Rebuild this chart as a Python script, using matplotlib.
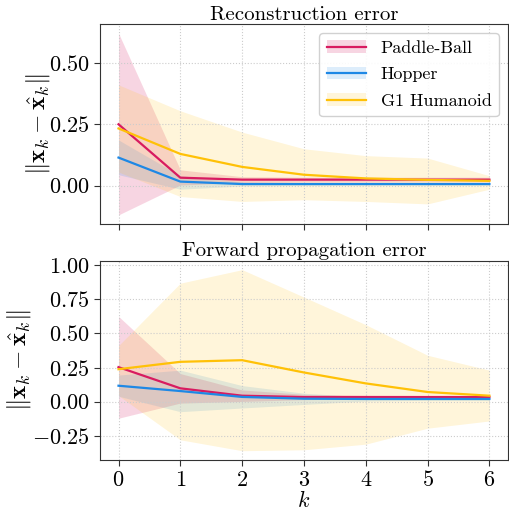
import numpy as np
import matplotlib
matplotlib.use("Agg")
import matplotlib.pyplot as plt
from matplotlib.patches import Patch
from matplotlib.lines import Line2D

plt.rcParams['font.family'] = 'serif'
plt.rcParams['font.serif'] = ['cmr10']
plt.rcParams['mathtext.fontset'] = 'cm'
plt.rcParams['axes.formatter.use_mathtext'] = True
plt.rcParams['axes.unicode_minus'] = True

k = [0, 1, 2, 3, 4, 5, 6]
series = ["Paddle-Ball", "Hopper", "G1 Humanoid"]
colors = ["#D81B60", "#1E88E5", "#FFC107"]

# Reconstruction error
rec_pb_mean = [0.250, 0.032, 0.024, 0.024, 0.024, 0.024, 0.024]
rec_pb_lo   = [-0.120, 0.002, 0.012, 0.014, 0.014, 0.014, 0.014]
rec_pb_hi   = [0.622, 0.064, 0.036, 0.034, 0.034, 0.034, 0.034]
rec_hp_mean = [0.114, 0.016, 0.006, 0.006, 0.006, 0.006, 0.006]
rec_hp_lo   = [0.044, -0.015, -0.002, 0.000, 0.001, 0.001, 0.001]
rec_hp_hi   = [0.186, 0.040, 0.014, 0.012, 0.011, 0.011, 0.011]
rec_g1_mean = [0.233, 0.129, 0.076, 0.044, 0.029, 0.023, 0.019]
rec_g1_lo   = [0.055, -0.045, -0.065, -0.058, -0.065, -0.075, -0.015]
rec_g1_hi   = [0.411, 0.305, 0.218, 0.150, 0.122, 0.112, 0.040]

# Forward propagation error
fwd_pb_mean = [0.253, 0.098, 0.044, 0.034, 0.034, 0.034, 0.034]
fwd_pb_lo   = [-0.121, -0.010, 0.002, 0.015, 0.020, 0.022, 0.022]
fwd_pb_hi   = [0.625, 0.206, 0.086, 0.054, 0.048, 0.046, 0.046]
fwd_hp_mean = [0.117, 0.078, 0.035, 0.022, 0.020, 0.020, 0.020]
fwd_hp_lo   = [0.040, -0.073, -0.046, -0.020, 0.005, 0.010, 0.010]
fwd_hp_hi   = [0.195, 0.231, 0.118, 0.062, 0.036, 0.030, 0.030]
fwd_g1_mean = [0.238, 0.292, 0.304, 0.214, 0.134, 0.071, 0.044]
fwd_g1_lo   = [0.045, -0.279, -0.359, -0.352, -0.311, -0.194, -0.141]
fwd_g1_hi   = [0.410, 0.868, 0.967, 0.766, 0.564, 0.340, 0.231]

panels = [
    ("Reconstruction error",
     [(rec_pb_mean, rec_pb_lo, rec_pb_hi), (rec_hp_mean, rec_hp_lo, rec_hp_hi), (rec_g1_mean, rec_g1_lo, rec_g1_hi)],
     [0.0, 0.25, 0.50], -0.118),
    ("Forward propagation error",
     [(fwd_pb_mean, fwd_pb_lo, fwd_pb_hi), (fwd_hp_mean, fwd_hp_lo, fwd_hp_hi), (fwd_g1_mean, fwd_g1_lo, fwd_g1_hi)],
     [-0.25, 0.0, 0.25, 0.50, 0.75, 1.00], -0.164),
]
band_alpha = [0.18, 0.15, 0.15]

fig = plt.figure(figsize=(5.10, 5.12), dpi=100)
ax1 = fig.add_axes([0.196, 0.5625, 0.800, 0.3905])
ax2 = fig.add_axes([0.196, 0.102, 0.800, 0.389], sharex=ax1)
fs = 16

for ax, (title, data, yt, lx) in zip([ax1, ax2], panels):
    for (m, lo, hi), c, a in zip(data, colors, band_alpha):
        ax.fill_between(k, lo, hi, color=c, alpha=a, linewidth=0)
    for (m, lo, hi), c in zip(data, colors):
        ax.plot(k, m, color=c, lw=1.6)
    ax.set_title(title, fontsize=15, pad=3)
    ax.set_ylabel(r'$\|\mathbf{x}_k - \hat{\mathbf{x}}_k\|$', fontsize=18)
    ax.yaxis.set_label_coords(lx, 0.5)
    ax.set_yticks(yt)
    ax.yaxis.set_major_formatter(matplotlib.ticker.FuncFormatter(lambda v, p: r'$%.2f$' % v))
    ax.grid(True, linestyle=':', color='#cccccc', linewidth=0.8)
    ax.tick_params(labelsize=fs, length=4, color='#333333')
    for s in ax.spines.values():
        s.set_color('#333333')

ax1.tick_params(labelbottom=False)
ax2.set_xticks(k)
ax2.set_xlabel(r'$k$', fontsize=fs, labelpad=0)

handles = [(Patch(facecolor=c, alpha=a, linewidth=0), Line2D([], [], color=c, lw=1.6))
           for c, a in zip(colors, band_alpha)]
ax1.legend(handles, series, loc='upper right', fontsize=13, framealpha=0.9,
           edgecolor='#cccccc', handlelength=2.2, labelspacing=0.6)

fig.savefig("out.png", dpi=100)
